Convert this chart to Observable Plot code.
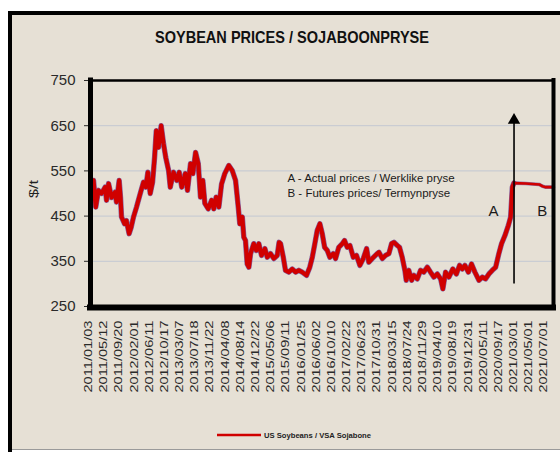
<!DOCTYPE html>
<html><head><meta charset="utf-8">
<script src="https://cdn.jsdelivr.net/npm/d3@7"></script>
<script src="https://cdn.jsdelivr.net/npm/@observablehq/plot@0.6"></script>
<style>
html,body{margin:0;padding:0;background:#fff;}
#chart{position:relative;width:560px;height:452px;overflow:hidden;}
</style></head><body><div id="chart"></div>
<script>
// ---- data ----
const tickLabels = ["2011/01/03","2011/05/12","2011/09/20","2012/02/01","2012/06/11","2012/10/17","2013/03/07","2013/07/18","2013/11/22","2014/04/08","2014/08/14","2014/12/22","2015/05/06","2015/09/11","2016/01/25","2016/06/02","2016/10/10","2017/02/22","2017/06/23","2017/10/31","2018/03/15","2018/07/24","2018/11/29","2019/04/10","2019/08/19","2019/12/31","2020/05/11","2020/09/17","2021/03/01","2021/05/01","2021/07/01"];
const tickDays = tickLabels.map((_, i) => i * 90);
const yTicks = [250, 350, 450, 550, 650, 750];
const gridValues = [350, 450, 550, 650];

// actual prices (category index of trading day, US$/t)
const actualDay = [8,18,31,47,65,87,95,107,125,146,154,170,178,184,202,213,229,241,255,273,295,314,328,340,354,368,380,390,403,419,433,446,463,473,492,512,526,541,562,575,593,607,623,639,652,666,678,698,718,731,745,761,777,796,820,840,860,876,885,900,909,919,929,939,949,968,983,998,1014,1034,1048,1067,1087,1107,1118,1127,1143,1156,1176,1196,1216,1235,1255,1281,1300,1315,1330,1344,1360,1374,1388,1404,1419,1439,1453,1472,1493,1506,1522,1538,1558,1577,1597,1617,1637,1650,1670,1700,1710,1730,1749,1769,1785,1799,1819,1832,1848,1864,1872,1887,1904,1917,1937,1957,1976,1997,2016,2036,2056,2076,2089,2105,2125,2148,2169,2188,2204,2220,2240,2259,2279,2303,2323,2342,2362,2382,2402,2421,2437,2457,2477,2491,2501,2510];
const actualPrice = [514,529,470,507,500,514,485,522,491,503,481,529,491,448,433,440,411,425,448,470,500,525,514,547,500,525,580,639,602,650,610,580,551,514,547,529,547,514,544,507,566,544,591,566,492,529,478,466,485,466,492,470,521,544,562,551,529,470,433,448,403,396,344,337,367,389,374,389,363,378,359,367,356,363,392,389,359,330,326,333,326,330,326,319,337,359,389,418,433,411,381,374,359,367,356,381,389,396,381,385,359,363,341,356,378,348,356,367,370,356,363,367,389,392,385,381,359,330,308,330,308,319,311,330,326,337,326,315,322,311,289,326,315,333,322,341,333,341,326,344,326,308,315,311,322,330,337,367,389,407,429,448,514,523];
// futures prices
const futuresDay = [2510, 2580, 2660, 2680, 2700, 2745];
const futuresPrice = [523, 522, 520, 516, 514, 514];

// annotations
const annotLines = ["A - Actual prices / Werklike pryse", "B - Futures prices/ Termynpryse"];
const annotDay = [1168, 1168];
const annotPrice = [533, 501];
const letters = ["A", "B"];
const letterDay = [2390, 2679];
const letterPrice = [460, 460];
const arrowDay = [2511];
const arrowFrom = [301];
const arrowTo = [662];

const titleText = "SOYBEAN PRICES / SOJABOONPRYSE";
const yLabel = "$/t";
const legendText = "US Soybeans / VSA Sojabone";

// ---- build ----
const actual = actualDay.map((d, i) => ({day: d, price: actualPrice[i]}));
const futures = futuresDay.map((d, i) => ({day: d, price: futuresPrice[i]}));
const annots = annotLines.map((t, i) => ({t, day: annotDay[i], price: annotPrice[i]}));
const lettersData = letters.map((t, i) => ({t, day: letterDay[i], price: letterPrice[i]}));
const arrow = arrowDay.map((d, i) => ({day: d, from: arrowFrom[i], to: arrowTo[i]}));
const labelMap = new Map(tickDays.map((d, i) => [d, tickLabels[i]]));
const font = "'Liberation Sans', Arial, Helvetica, sans-serif";
const xMax = 2745;

const plot = Plot.plot({
  width: 560, height: 452,
  marginLeft: 90, marginRight: 7, marginTop: 80, marginBottom: 146,
  style: {background: "transparent", fontFamily: font, color: "#222", overflow: "visible"},
  x: {domain: [0, xMax], axis: null},
  y: {domain: [250, 750], axis: null},
  marks: [
    Plot.ruleY(gridValues, {stroke: "#c3c8d2", strokeWidth: 1}),
    Plot.axisY(yTicks, {label: null, tickSize: 6, tickPadding: 9, fontSize: 15.5, color: "#2a2a2a"}),
    Plot.axisX(tickDays, {label: null, tickSize: 0, tickPadding: 14, tickRotate: -90, fontSize: 11, color: "#2a2a2a", dx: -2, tickFormat: d => labelMap.get(d)}),
    Plot.line(actual, {x: "day", y: "price", stroke: "#5b2a86", strokeWidth: 5.4, strokeOpacity: 0.7, strokeLinejoin: "round"}),
    Plot.line(actual, {x: "day", y: "price", stroke: "#d00000", strokeWidth: 4.2, strokeLinejoin: "round"}),
    Plot.line(futures, {x: "day", y: "price", stroke: "#5b2a86", strokeWidth: 3.6, strokeOpacity: 0.6}),
    Plot.line(futures, {x: "day", y: "price", stroke: "#d00000", strokeWidth: 2.6}),
    Plot.link(arrow, {x1: "day", x2: "day", y1: "from", y2: "to", stroke: "#000", strokeWidth: 1.6}),
    Plot.dot(arrow, {x: "day", y: "to", symbol: "triangle", r: 4.6, fill: "#000", stroke: null}),
    Plot.text(annots, {x: "day", y: "price", text: "t", textAnchor: "start", fontSize: 11.5, fill: "#1a1a1a", ariaLabel: "annot"}),
    Plot.text(lettersData, {x: "day", y: "price", text: "t", fontSize: 15, fill: "#1a1a1a", ariaLabel: "letters"}),
    Plot.ruleX([0], {stroke: "#000", strokeWidth: 5, strokeLinecap: "square"}),
    Plot.ruleX([xMax], {stroke: "#000", strokeWidth: 4, strokeLinecap: "square"}),
    Plot.ruleY([750], {stroke: "#000", strokeWidth: 2.5, strokeLinecap: "square"}),
    Plot.ruleY([250], {stroke: "#000", strokeWidth: 6, dy: 1, strokeLinecap: "square"})
  ]
});

const svg = d3.select(plot);
// background panel
svg.insert("rect", ":first-child").attr("x", 10).attr("y", 13).attr("width", 550).attr("height", 436).attr("fill", "#e6e0d5");
// outer frame
svg.append("line").attr("x1", 10).attr("x2", 10).attr("y1", 11).attr("y2", 452).attr("stroke", "#000").attr("stroke-width", 4);
svg.append("line").attr("x1", 8).attr("x2", 560).attr("y1", 13).attr("y2", 13).attr("stroke", "#000").attr("stroke-width", 4);
svg.append("line").attr("x1", 12).attr("x2", 560).attr("y1", 449.5).attr("y2", 449.5).attr("stroke", "#9a9a9a").attr("stroke-width", 1);

// title
svg.append("text").attr("x", 155).attr("y", 42.5).attr("text-anchor", "start").attr("font-family", font).attr("font-weight", "bold")
  .attr("font-size", 16.5).attr("fill", "#111").attr("textLength", 274).attr("lengthAdjust", "spacingAndGlyphs").text(titleText);
// y label
svg.append("text").attr("transform", "translate(38,189) rotate(-90)").attr("text-anchor", "middle")
  .attr("font-family", font).attr("font-size", 13).attr("fill", "#222")
  .attr("textLength", 18).attr("lengthAdjust", "spacingAndGlyphs").text(yLabel);
// legend
svg.append("line").attr("x1", 217).attr("x2", 261).attr("y1", 435).attr("y2", 435).attr("stroke", "#d00000").attr("stroke-width", 2.5);
svg.append("text").attr("x", 264).attr("y", 437.5).attr("text-anchor", "start").attr("font-family", font).attr("font-weight", "bold")
  .attr("font-size", 7).attr("fill", "#222").attr("textLength", 107).attr("lengthAdjust", "spacingAndGlyphs").text(legendText);

// condensed/stretched text like the reference
svg.selectAll('g[aria-label="y-axis tick label"] text').attr("textLength", 25).attr("lengthAdjust", "spacingAndGlyphs");
svg.selectAll('g[aria-label="x-axis tick label"] text').attr("textLength", 72).attr("lengthAdjust", "spacingAndGlyphs");
const annLens = [181, 176];
svg.selectAll('g[aria-label="annot"] text').each(function(d, i) {
  d3.select(this).attr("textLength", annLens[i]).attr("lengthAdjust", "spacingAndGlyphs");
});
svg.selectAll('g[aria-label="letters"] text').attr("textLength", 10).attr("lengthAdjust", "spacingAndGlyphs");

document.getElementById("chart").appendChild(plot);
</script></body></html>
